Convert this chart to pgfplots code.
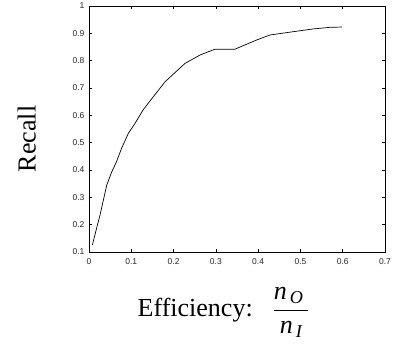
\documentclass[border=0pt]{standalone}
\usepackage{amsmath}
\usepackage{fontspec}
\setmainfont{Liberation Serif}
\newfontfamily\tickfont{Liberation Sans}
\usepackage{pgfplots}
\pgfplotsset{compat=1.18}
\begin{document}
\begin{tikzpicture}
\begin{axis}[
  scale only axis,
  width=296pt, height=246pt,
  xmin=0, xmax=0.7, ymin=0.1, ymax=1,
  xtick={0,0.1,...,0.7}, ytick={0.1,0.2,...,1.0},
  xticklabels={0,0.1,0.2,0.3,0.4,0.5,0.6,0.7},
  yticklabels={0.1,0.2,0.3,0.4,0.5,0.6,0.7,0.8,0.9,1},
  tick align=inside,
  major tick length=3pt,
  tick style={black, line width=0.6pt},
  axis line style={black, line width=0.7pt},
  ticklabel style={font=\tickfont\fontsize{8.5}{9}\selectfont, text=black!85},
  xticklabel style={yshift=-3pt},
  yticklabel style={xshift=-1pt},
  xlabel={\fontsize{26}{30}\selectfont Efficiency:\hspace{20pt}$\displaystyle\frac{\textit{n}_{\,\textit{O}}\hspace{5pt}}{\textit{n}_{\,\textit{I}}}$},
  ylabel={\fontsize{26}{30}\selectfont Recall},
  xlabel style={at={(axis description cs:0.455,-0.262)}, anchor=base},
  ylabel style={at={(axis description cs:-0.18,0.46)}, anchor=base},
]
\addplot[black, line width=0.7pt] coordinates {
(0.008,0.126) (0.018,0.187) (0.026,0.235) (0.034,0.290) (0.042,0.345)
(0.054,0.394) (0.065,0.430) (0.077,0.479) (0.093,0.534) (0.109,0.571)
(0.128,0.620) (0.146,0.656) (0.180,0.723) (0.227,0.790) (0.263,0.821)
(0.298,0.842) (0.345,0.842) (0.397,0.876) (0.428,0.894) (0.483,0.906)
(0.530,0.916) (0.570,0.922) (0.598,0.923)
};
\coordinate (sw) at (rel axis cs:0,0);
\coordinate (ne) at (rel axis cs:1,1);
\end{axis}
\pgfresetboundingbox
\path (sw) ++(-89pt,-98pt) coordinate (bl);
\path (ne) ++(17pt,6pt) coordinate (tr);
\path (bl) rectangle (tr);
\end{tikzpicture}
\end{document}
